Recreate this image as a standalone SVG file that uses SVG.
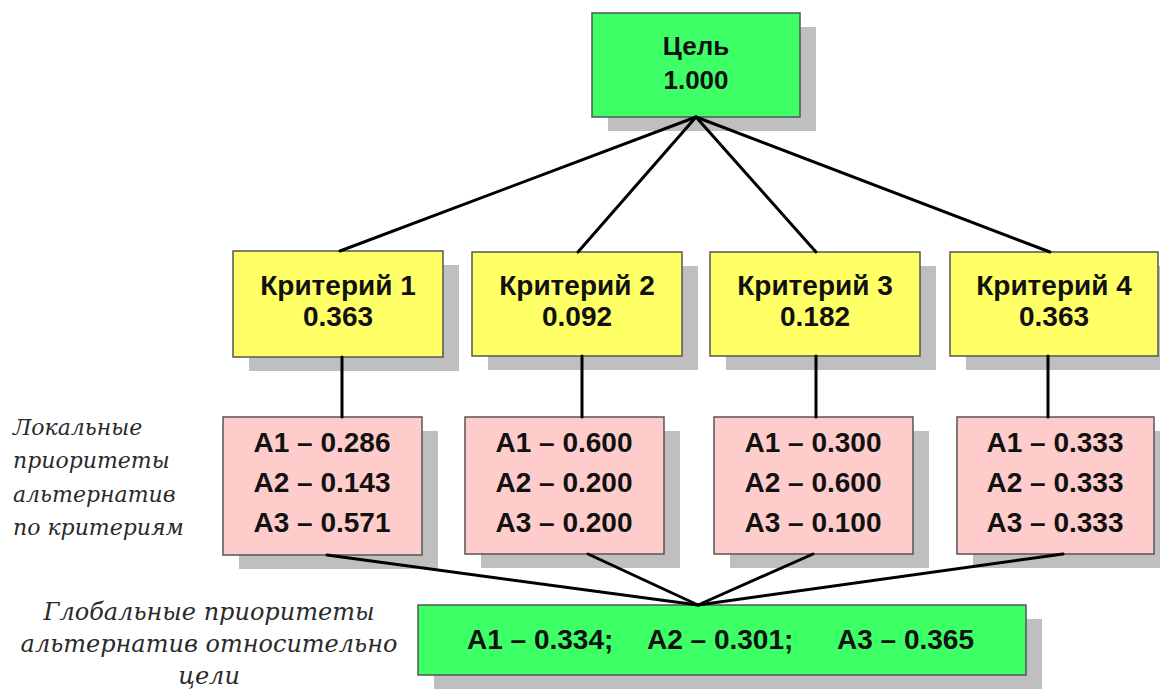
<svg xmlns="http://www.w3.org/2000/svg" width="1160" height="699" viewBox="0 0 1160 699">
  <defs>
    <style>
      .shadow { fill: #bfbfbf; }
      .box { stroke: #555555; stroke-width: 1.5; }
      .green { fill: #3dff66; }
      .yellow { fill: #ffff66; }
      .pink { fill: #ffcccc; }
      .t { font-family: "Liberation Sans", Arial, sans-serif; font-weight: bold; font-size: 28px; fill: #111111; text-anchor: middle; }
      .tl { font-family: "Liberation Sans", Arial, sans-serif; font-weight: bold; font-size: 28px; fill: #111111; }
      .note { font-family: "DejaVu Serif", "Liberation Serif", serif; font-style: italic; fill: #2a2a2a; }
      .conn { stroke: #000000; stroke-width: 3; fill: none; stroke-linecap: round; }
    </style>
  </defs>
  <rect width="1160" height="699" fill="#ffffff"/>

  <g id="goal">
    <rect class="shadow" x="608" y="27" width="208" height="104"/>
    <rect class="box green" x="592" y="13" width="208" height="104"/>
    <text class="t" x="696" y="55" style="font-size:26px">Цель</text>
    <text class="t" x="696" y="89" style="font-size:26px">1.000</text>
  </g>

  <g id="crit1">
    <rect class="shadow" x="249" y="265" width="210" height="106"/>
    <rect class="box yellow" x="233" y="251" width="210" height="106"/>
    <text class="t" x="338" y="295">Критерий 1</text>
    <text class="t" x="338" y="326">0.363</text>
  </g>
  <g id="crit2">
    <rect class="shadow" x="488" y="266" width="210" height="104"/>
    <rect class="box yellow" x="472" y="252" width="210" height="104"/>
    <text class="t" x="577" y="295">Критерий 2</text>
    <text class="t" x="577" y="326">0.092</text>
  </g>
  <g id="crit3">
    <rect class="shadow" x="726" y="266" width="210" height="104"/>
    <rect class="box yellow" x="710" y="252" width="210" height="104"/>
    <text class="t" x="815" y="295">Критерий 3</text>
    <text class="t" x="815" y="326">0.182</text>
  </g>
  <g id="crit4">
    <rect class="shadow" x="966" y="266" width="208" height="104"/>
    <rect class="box yellow" x="950" y="252" width="208" height="104"/>
    <text class="t" x="1054" y="295">Критерий 4</text>
    <text class="t" x="1054" y="326">0.363</text>
  </g>

  <g id="local1">
    <rect class="shadow" x="239" y="431" width="199" height="138"/>
    <rect class="box pink" x="223" y="417" width="199" height="138"/>
    <text class="t" x="322" y="452">A1 – 0.286</text>
    <text class="t" x="322" y="492">A2 – 0.143</text>
    <text class="t" x="322" y="532">A3 – 0.571</text>
  </g>
  <g id="local2">
    <rect class="shadow" x="481" y="431" width="199" height="137"/>
    <rect class="box pink" x="465" y="417" width="199" height="137"/>
    <text class="t" x="564" y="452">A1 – 0.600</text>
    <text class="t" x="564" y="492">A2 – 0.200</text>
    <text class="t" x="564" y="532">A3 – 0.200</text>
  </g>
  <g id="local3">
    <rect class="shadow" x="730" y="431" width="199" height="137"/>
    <rect class="box pink" x="714" y="417" width="199" height="137"/>
    <text class="t" x="813" y="452">A1 – 0.300</text>
    <text class="t" x="813" y="492">A2 – 0.600</text>
    <text class="t" x="813" y="532">A3 – 0.100</text>
  </g>
  <g id="local4">
    <rect class="shadow" x="973" y="431" width="197" height="137"/>
    <rect class="box pink" x="957" y="417" width="197" height="137"/>
    <text class="t" x="1055" y="452">A1 – 0.333</text>
    <text class="t" x="1055" y="492">A2 – 0.333</text>
    <text class="t" x="1055" y="532">A3 – 0.333</text>
  </g>

  <g id="global">
    <rect class="shadow" x="434" y="619" width="608" height="70"/>
    <rect class="box green" x="418" y="605" width="608" height="70"/>
    <text class="tl" y="649"><tspan x="467">A1 – 0.334;</tspan><tspan x="647">A2 – 0.301;</tspan><tspan x="837">A3 – 0.365</tspan></text>
  </g>

  <g id="connectors">
    <line class="conn" x1="696" y1="117" x2="340" y2="251"/>
    <line class="conn" x1="696" y1="117" x2="578" y2="252"/>
    <line class="conn" x1="696" y1="117" x2="816" y2="252"/>
    <line class="conn" x1="696" y1="117" x2="1050" y2="252"/>
    <line class="conn" x1="342" y1="357" x2="342" y2="417"/>
    <line class="conn" x1="582" y1="356" x2="582" y2="417"/>
    <line class="conn" x1="816" y1="356" x2="816" y2="417"/>
    <line class="conn" x1="1048" y1="356" x2="1048" y2="417"/>
    <line class="conn" x1="327" y1="555" x2="698" y2="605"/>
    <line class="conn" x1="588" y1="554" x2="698" y2="605"/>
    <line class="conn" x1="813" y1="554" x2="698" y2="605"/>
    <line class="conn" x1="1063" y1="554" x2="698" y2="605"/>
  </g>

  <g id="label-local">
    <text class="note" font-size="22" x="13" y="435">Локальные</text>
    <text class="note" font-size="22" x="13" y="468">приоритеты</text>
    <text class="note" font-size="22" x="13" y="502">альтернатив</text>
    <text class="note" font-size="22" x="13" y="535">по критериям</text>
  </g>
  <g id="label-global">
    <text class="note" font-size="24" text-anchor="middle" x="209" y="620">Глобальные приоритеты</text>
    <text class="note" font-size="24" text-anchor="middle" x="209" y="652">альтернатив относительно</text>
    <text class="note" font-size="24" text-anchor="middle" x="209" y="684">цели</text>
  </g>
</svg>
